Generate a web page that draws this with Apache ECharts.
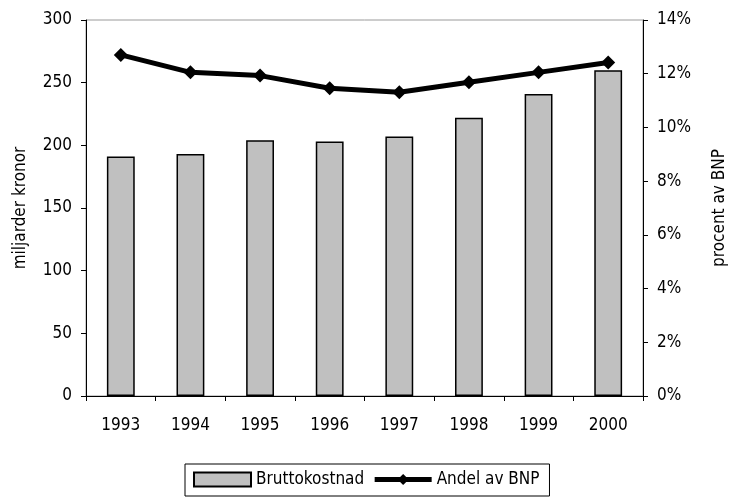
<!DOCTYPE html>
<html>
<head>
<meta charset="utf-8">
<script src="https://cdn.jsdelivr.net/npm/echarts@6/dist/echarts.min.js"></script>
<style>
  html, body { margin: 0; padding: 0; background: #fff; }
  #chart { width: 736px; height: 498px; }
</style>
</head>
<body>
<div id="chart"></div>
<script>
// Years on the category axis
const years = ['1993', '1994', '1995', '1996', '1997', '1998', '1999', '2000'];
// Gross cost, billions of kronor (left axis)
const bruttokostnad = [191, 193, 204, 203, 207, 222, 241, 260];
// Share of GDP, percent (right axis)
const andelAvBNP = [12.7, 12.05, 11.93, 11.46, 11.31, 11.68, 12.05, 12.42];

const FONT = "'Liberation Sans Narrow', 'DejaVu Sans Condensed', 'Arial Narrow', sans-serif";
const txt = { color: '#000', fontFamily: FONT, fontSize: 17 };

const chart = echarts.init(document.getElementById('chart'), null, { renderer: 'canvas' });

chart.setOption({
  backgroundColor: '#fff',
  animation: false,
  textStyle: txt,
  grid: {
    left: 86, right: 89, top: 20, bottom: 102,
    show: true, borderColor: '#9a9a9a', borderWidth: 1, backgroundColor: 'transparent'
  },
  legend: {
    left: 185, top: 464,
    padding: [7, 10, 8, 8],
    itemGap: 8,
    itemWidth: 57, itemHeight: 14,
    borderColor: '#000', borderWidth: 1,
    backgroundColor: '#fff',
    textStyle: txt,
    data: [
      { name: 'Bruttokostnad', icon: 'rect' },
      { name: 'Andel av BNP', lineStyle: { width: 5, color: '#000' } }
    ]
  },
  xAxis: {
    type: 'category',
    data: years,
    boundaryGap: true,
    axisLine: { show: true, lineStyle: { color: '#000', width: 1 } },
    axisTick: { show: true, length: 5, lineStyle: { color: '#000' } },
    axisLabel: { ...txt, margin: 21 }
  },
  yAxis: [
    {
      type: 'value',
      min: 0, max: 300, interval: 50,
      name: 'miljarder kronor',
      nameLocation: 'middle',
      nameGap: 57,
      nameRotate: 90,
      nameTextStyle: txt,
      axisLine: { show: true, lineStyle: { color: '#000', width: 1 } },
      axisTick: { show: true, length: 5, lineStyle: { color: '#000' } },
      axisLabel: { ...txt, margin: 14 },
      splitLine: { show: false }
    },
    {
      type: 'value',
      min: 0, max: 14, interval: 2,
      position: 'right',
      name: 'procent av BNP',
      nameLocation: 'middle',
      nameGap: 68,
      nameRotate: 90,
      nameTextStyle: txt,
      axisLine: { show: true, lineStyle: { color: '#000', width: 1 } },
      axisTick: { show: true, length: 5, lineStyle: { color: '#000' } },
      axisLabel: { ...txt, margin: 14, formatter: '{value}%' },
      splitLine: { show: false }
    }
  ],
  series: [
    {
      name: 'Bruttokostnad',
      type: 'bar',
      yAxisIndex: 0,
      data: bruttokostnad,
      barWidth: '40%',
      itemStyle: { color: '#c0c0c0', borderColor: '#000', borderWidth: 1.5 }
    },
    {
      name: 'Andel av BNP',
      type: 'line',
      yAxisIndex: 1,
      data: andelAvBNP,
      symbol: 'diamond',
      symbolSize: 14,
      lineStyle: { color: '#000', width: 5 },
      itemStyle: { color: '#000' },
      z: 5
    }
  ]
});
</script>
</body>
</html>
